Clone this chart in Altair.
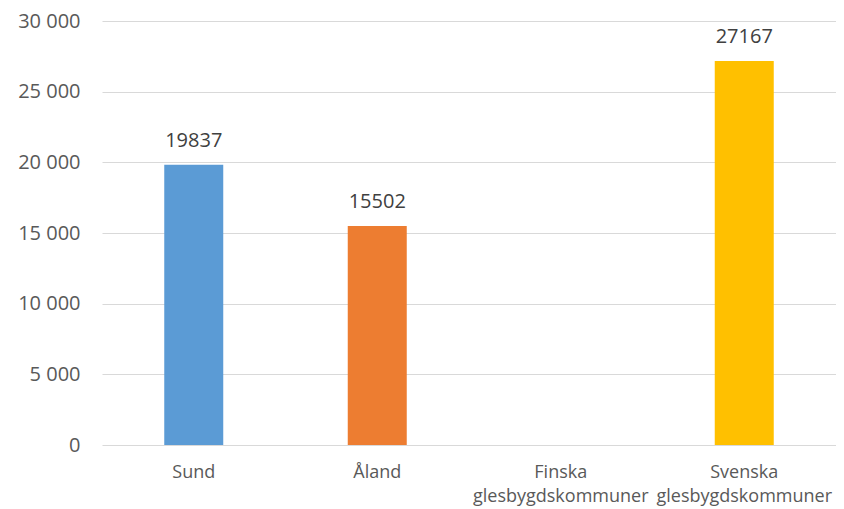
import altair as alt
import pandas as pd

categories = ["Sund", "Åland", "Finska|glesbygdskommuner", "Svenska|glesbygdskommuner"]
values = [19837, 15502, None, 27167]
colors = ["#5B9BD5", "#ED7D31", "#A5A5A5", "#FFC000"]
y_ticks = [0, 5000, 10000, 15000, 20000, 25000, 30000]

df = pd.DataFrame({"cat": categories, "val": values, "col": colors})

font = "Open Sans"

x = alt.X("cat:N", sort=categories, title=None,
          scale=alt.Scale(paddingInner=0, paddingOuter=0),
          axis=alt.Axis(labelAngle=0, ticks=False, domain=False, grid=False,
                        labelExpr="split(datum.label, '|')",
                        labelFont=font, labelFontSize=18, labelColor="#595959",
                        labelPadding=18, labelLineHeight=24, labelBaseline="top",
                        labelLimit=300))
y = alt.Y("val:Q", title=None,
          scale=alt.Scale(domain=[0, 30000], nice=False),
          axis=alt.Axis(values=y_ticks, ticks=False, domain=False,
                        gridColor="#D9D9D9", gridWidth=1.2,
                        labelExpr="replace(format(datum.value, ',d'), ',', ' ')",
                        labelFont=font, labelFontSize=20, labelColor="#595959",
                        labelPadding=22))

bars = alt.Chart(df).mark_bar(size=59).encode(
    x=x, y=y,
    color=alt.Color("col:N", scale=None),
)

labels = alt.Chart(df).transform_filter("isValid(datum.val)").mark_text(
    baseline="alphabetic", dy=-18, font=font, fontSize=20, color="#404040"
).encode(
    x=alt.X("cat:N", sort=categories),
    y=alt.Y("val:Q"),
    text=alt.Text("val:Q", format="d"),
)

chart = (bars + labels).properties(
    width=734, height=424,
    autosize=alt.AutoSizeParams(type="none"),
    padding={"left": 94, "top": 13, "right": 0, "bottom": 70},
).configure_view(stroke=None)

chart.save("out.html", embed_options={"renderer": "svg", "actions": False})
